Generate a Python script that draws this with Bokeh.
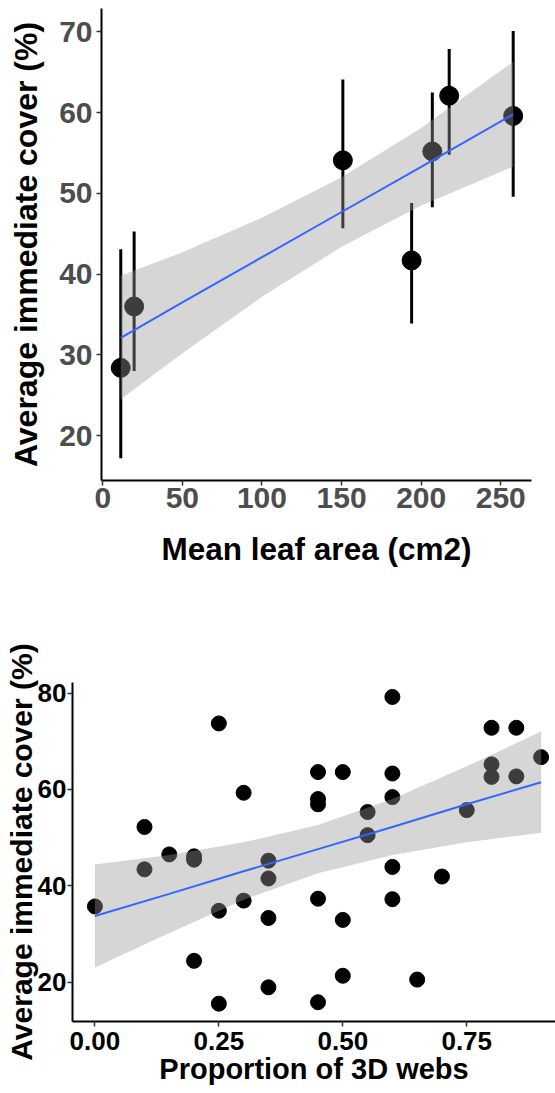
import numpy as np
from bokeh.plotting import figure
from bokeh.layouts import column
from bokeh.models import Range1d, FixedTicker
from bokeh.embed import file_html
from bokeh.resources import INLINE

# ---------------- Panel 1 data ----------------
leaf_area = [11.3, 19.7, 150.8, 194.0, 207.0, 217.6, 257.8]
cover_mean = [28.4, 36.0, 54.1, 41.7, 55.2, 62.1, 59.6]
cover_low = [17.2, 28.0, 45.7, 33.9, 48.3, 54.8, 49.6]
cover_high = [43.1, 45.3, 64.1, 48.8, 62.5, 67.9, 70.1]
fit1_x = [11.3, 50, 100, 150, 200, 257.8]
fit1_y = [32.1, 36.5, 42.1, 47.7, 53.3, 59.8]
fit1_lo = [24.5, 30.2, 37.2, 43.4, 48.5, 53.3]
fit1_hi = [39.8, 42.7, 47.0, 52.0, 58.1, 66.3]
x1_ticks = [0, 50, 100, 150, 200, 250]
y1_ticks = [20, 30, 40, 50, 60, 70]

# ---------------- Panel 2 data ----------------
webs = [0.00, 0.10, 0.10, 0.15, 0.20, 0.20, 0.20, 0.25, 0.25, 0.25,
        0.30, 0.30, 0.35, 0.35, 0.35, 0.35, 0.45, 0.45, 0.45, 0.45,
        0.45, 0.50, 0.50, 0.50, 0.55, 0.55, 0.60, 0.60, 0.60, 0.60,
        0.60, 0.65, 0.70, 0.75, 0.80, 0.80, 0.80, 0.85, 0.85, 0.90]
cover = [35.7, 52.2, 43.4, 46.5, 46.1, 45.4, 24.4, 73.7, 34.8, 15.5,
         59.3, 36.9, 45.2, 41.5, 33.3, 18.9, 63.6, 58.0, 56.9, 37.3,
         15.8, 63.6, 32.9, 21.3, 55.3, 50.5, 79.2, 63.3, 58.4, 43.9,
         37.2, 20.5, 41.9, 55.7, 72.8, 65.2, 62.6, 72.8, 62.7, 66.7]
fit2_x = [0.0, 0.15, 0.30, 0.45, 0.60, 0.75, 0.90]
fit2_y = [33.7, 38.3, 43.0, 47.6, 52.2, 56.9, 61.5]
fit2_lo = [23.0, 30.2, 37.1, 42.6, 46.4, 49.0, 51.0]
fit2_hi = [44.4, 46.4, 49.0, 52.6, 58.0, 64.8, 72.0]
x2_ticks = [0.0, 0.25, 0.5, 0.75]
x2_labels = ["0.00", "0.25", "0.50", "0.75"]
y2_ticks = [20, 40, 60, 80]

FONT = "Liberation Sans"


def style_axes(p, tick_size, tick_color, xtitle_size, ytitle_size, tick_out,
               lab_standoff_x, lab_standoff_y, tick_standoff_x, tick_standoff_y):
    p.xgrid.visible = False
    p.ygrid.visible = False
    p.outline_line_color = None
    for ax in (p.xaxis[0], p.yaxis[0]):
        ax.axis_line_width = 2
        ax.axis_line_color = "black"
        ax.major_tick_line_color = "#333333"
        ax.major_tick_line_width = 1.5
        ax.major_tick_out = tick_out
        ax.major_tick_in = 0
        ax.minor_tick_line_color = None
        ax.major_label_text_font = FONT
        ax.major_label_text_font_style = "bold"
        ax.major_label_text_font_size = tick_size
        ax.major_label_text_color = tick_color
        ax.axis_label_text_font = FONT
        ax.axis_label_text_font_style = "bold"
        ax.axis_label_text_color = "black"
    p.xaxis[0].axis_label_text_font_size = xtitle_size
    p.yaxis[0].axis_label_text_font_size = ytitle_size
    p.xaxis[0].axis_label_standoff = lab_standoff_x
    p.yaxis[0].axis_label_standoff = lab_standoff_y
    p.xaxis[0].major_label_standoff = tick_standoff_x
    p.yaxis[0].major_label_standoff = tick_standoff_y


# ---------------- Figure 1 ----------------
p1 = figure(width=555, height=608, output_backend="svg", toolbar_location=None,
            x_range=Range1d(-0.8, 269.3), y_range=Range1d(14.45, 72.9),
            min_border_left=101, min_border_right=24, min_border_top=8, min_border_bottom=128,
            frame_align=False,
            x_axis_label="Mean leaf area (cm2)", y_axis_label="Average immediate cover (%)")
p1.segment(x0=leaf_area, y0=cover_low, x1=leaf_area, y1=cover_high, line_width=3, line_color="black")
p1.scatter(leaf_area, cover_mean, size=19, color="black")
p1.varea(x=fit1_x, y1=fit1_lo, y2=fit1_hi, fill_color="#999999", fill_alpha=0.4)
p1.line(fit1_x, fit1_y, line_color="#3366FF", line_width=2)
p1.xaxis.ticker = FixedTicker(ticks=x1_ticks)
p1.yaxis.ticker = FixedTicker(ticks=y1_ticks)
style_axes(p1, "30px", "#4D4D4D", "31.5px", "32px", 5, 20, 12, 2, 4)

# ---------------- Figure 2 ----------------
p2 = figure(width=555, height=485, output_backend="svg", toolbar_location=None,
            x_range=Range1d(-0.0452, 0.929), y_range=Range1d(11.8, 82.2),
            min_border_left=72, min_border_right=0, min_border_top=74, min_border_bottom=72,
            frame_align=False,
            x_axis_label="Proportion of 3D webs", y_axis_label="Average immediate cover (%)")
p2.scatter(webs, cover, size=15, color="black")
p2.varea(x=fit2_x, y1=fit2_lo, y2=fit2_hi, fill_color="#999999", fill_alpha=0.4)
p2.line(fit2_x, fit2_y, line_color="#3366FF", line_width=2)
p2.xaxis.ticker = FixedTicker(ticks=x2_ticks)
p2.xaxis.major_label_overrides = {t: l for t, l in zip(x2_ticks, x2_labels)}
p2.yaxis.ticker = FixedTicker(ticks=y2_ticks)
style_axes(p2, "26px", "black", "29px", "30px", 5, 0, -3, 5, 1)

layout = column(p1, p2, spacing=0)
open("out.html", "w").write(file_html(layout, INLINE))
